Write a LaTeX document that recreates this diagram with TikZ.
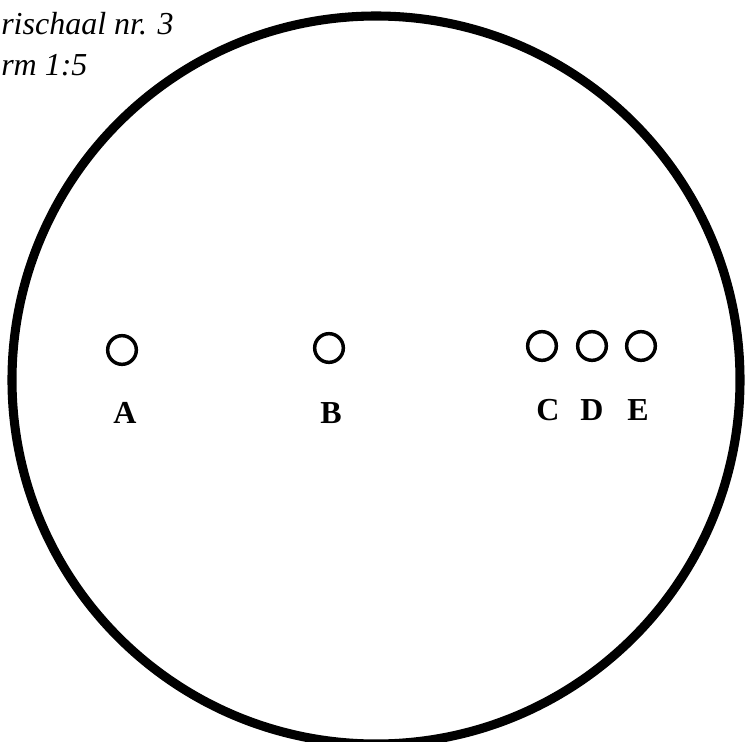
\documentclass[tikz,border=0pt]{standalone}
\usepackage{fontspec}
\setmainfont{Liberation Serif}

\begin{document}
\begin{tikzpicture}[x=0.75pt,y=-0.75pt,
  gat/.style={draw,circle,line width=2.6pt,minimum size=21.5pt,inner sep=0pt},
  letter/.style={font=\fontsize{24}{28}\selectfont\bfseries}]
\useasboundingbox (0,0) rectangle (746,742);
\clip (0,0) rectangle (746,742);

\node[anchor=base west,inner sep=0pt,font=\fontsize{24}{29}\selectfont\itshape] (titel) at (1,35) {rischaal nr. 3};
\node[anchor=base west,inner sep=0pt,font=\fontsize{24}{29}\selectfont\itshape] (schaal) at (1,75) {rm 1:5};

\draw[line width=6.8pt] (376,380) circle (364);

\node[gat] (gatA) at (122,350) {};
\node[gat] (gatB) at (329,348) {};
\node[gat] (gatC) at (542,346) {};
\node[gat] (gatD) at (592,346) {};
\node[gat] (gatE) at (641,346) {};

\node[letter] (labA) at (125,413) {A};
\node[letter] (labB) at (331,413) {B};
\node[letter] (labC) at (548,410) {C};
\node[letter] (labD) at (592,410) {D};
\node[letter] (labE) at (638,410) {E};
\end{tikzpicture}
\end{document}
